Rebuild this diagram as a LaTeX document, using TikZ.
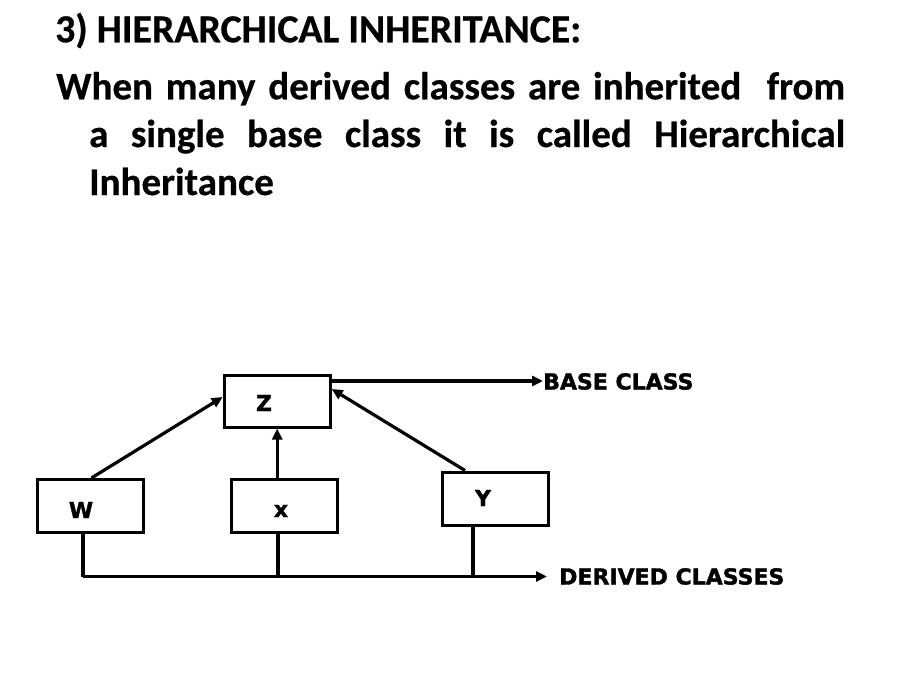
\documentclass[tikz,border=0pt]{standalone}
\usepackage{fontspec}
\setmainfont{Carlito}[BoldFeatures={FakeBold=0.6}]
\newfontfamily\dgfont{DejaVu Sans}[BoldFeatures={FakeBold=1.5}]
\usetikzlibrary{arrows.meta,calc}
\tikzset{
  box/.style={draw, line width=3pt, minimum width=106pt, minimum height=53pt, inner sep=0pt},
  lbl/.style={font=\dgfont\bfseries\fontsize{22}{25}\selectfont, inner sep=0pt},
  body/.style={font=\bfseries\fontsize{39}{46}\selectfont, inner sep=0pt, anchor=base west},
  conn/.style={line width=3.2pt},
  arr/.style={line width=3.2pt, -{Triangle[length=11pt,width=10pt]}}
}
\begin{document}
\begin{tikzpicture}[x=1pt,y=-1pt]
\useasboundingbox (0,0) rectangle (900,675);
\fill[white] (0,0) rectangle (900,675);
% text
\node[body, font=\bfseries\fontsize{39.8}{46}\selectfont] (title) at (55,42.3) {3) HIERARCHICAL INHERITANCE:};
\node[body] (l1) at (56,99.3) {\hbox to 789pt{When many derived classes are inherited\ \ from}};
\node[body] (l2) at (89,147) {\hbox to 756pt{a single base class it is called Hierarchical}};
\node[body] (l3) at (89,195) {Inheritance};
% boxes
\node[box, minimum height=52pt] (Z) at (277.2,401) {};
\node[box] (W) at (90,506) {};
\node[box] (X) at (284.5,506) {};
\node[box] (Y) at (495,498.5) {};
\node[lbl] (zl) at (264,403) {Z};
\node[lbl] (wl) at (81,510) {W};
\node[lbl] (xl) at (281,511) {x};
\node[lbl] (yl) at (483,498) {Y};
\node[lbl, anchor=west] (base) at (543,381.5) {BASE CLASS};
\node[lbl, anchor=west] (derived) at (559,576.5) {DERIVED CLASSES};
% connectors
\coordinate (zr) at ($(Z.north east)+(0,7.5)$);
\draw[arr] (zr) -- (zr -| base.west);
\coordinate (wtop) at ($(W.north)+(1.4,0)$);
\coordinate (zw) at ($(Z.west)+(0,-4)$);
\draw[arr] (wtop) -- (zw);
\draw[arr] (Z.south |- X.north) -- (Z.south);
\coordinate (ytop) at ($(Y.north)+(-30,0)$);
\coordinate (ze) at ($(Z.east)+(0,-12)$);
\draw[arr] (ytop) -- (ze);
\coordinate (wb) at ($(W.south)+(-7,0)$);
\coordinate (xb) at ($(X.south)+(-6.6,0)$);
\coordinate (yb) at ($(Y.south)+(-22,0)$);
\coordinate (bl) at (wb |- derived.west);
\coordinate (be) at ($(derived.west)+(-12,0)$);
\draw[conn, line join=round] (wb) -- (bl);
\draw[arr] (bl) -- (be);
\draw[conn] (xb) -- (xb |- bl);
\draw[conn] (yb) -- (yb |- bl);
\end{tikzpicture}
\end{document}
